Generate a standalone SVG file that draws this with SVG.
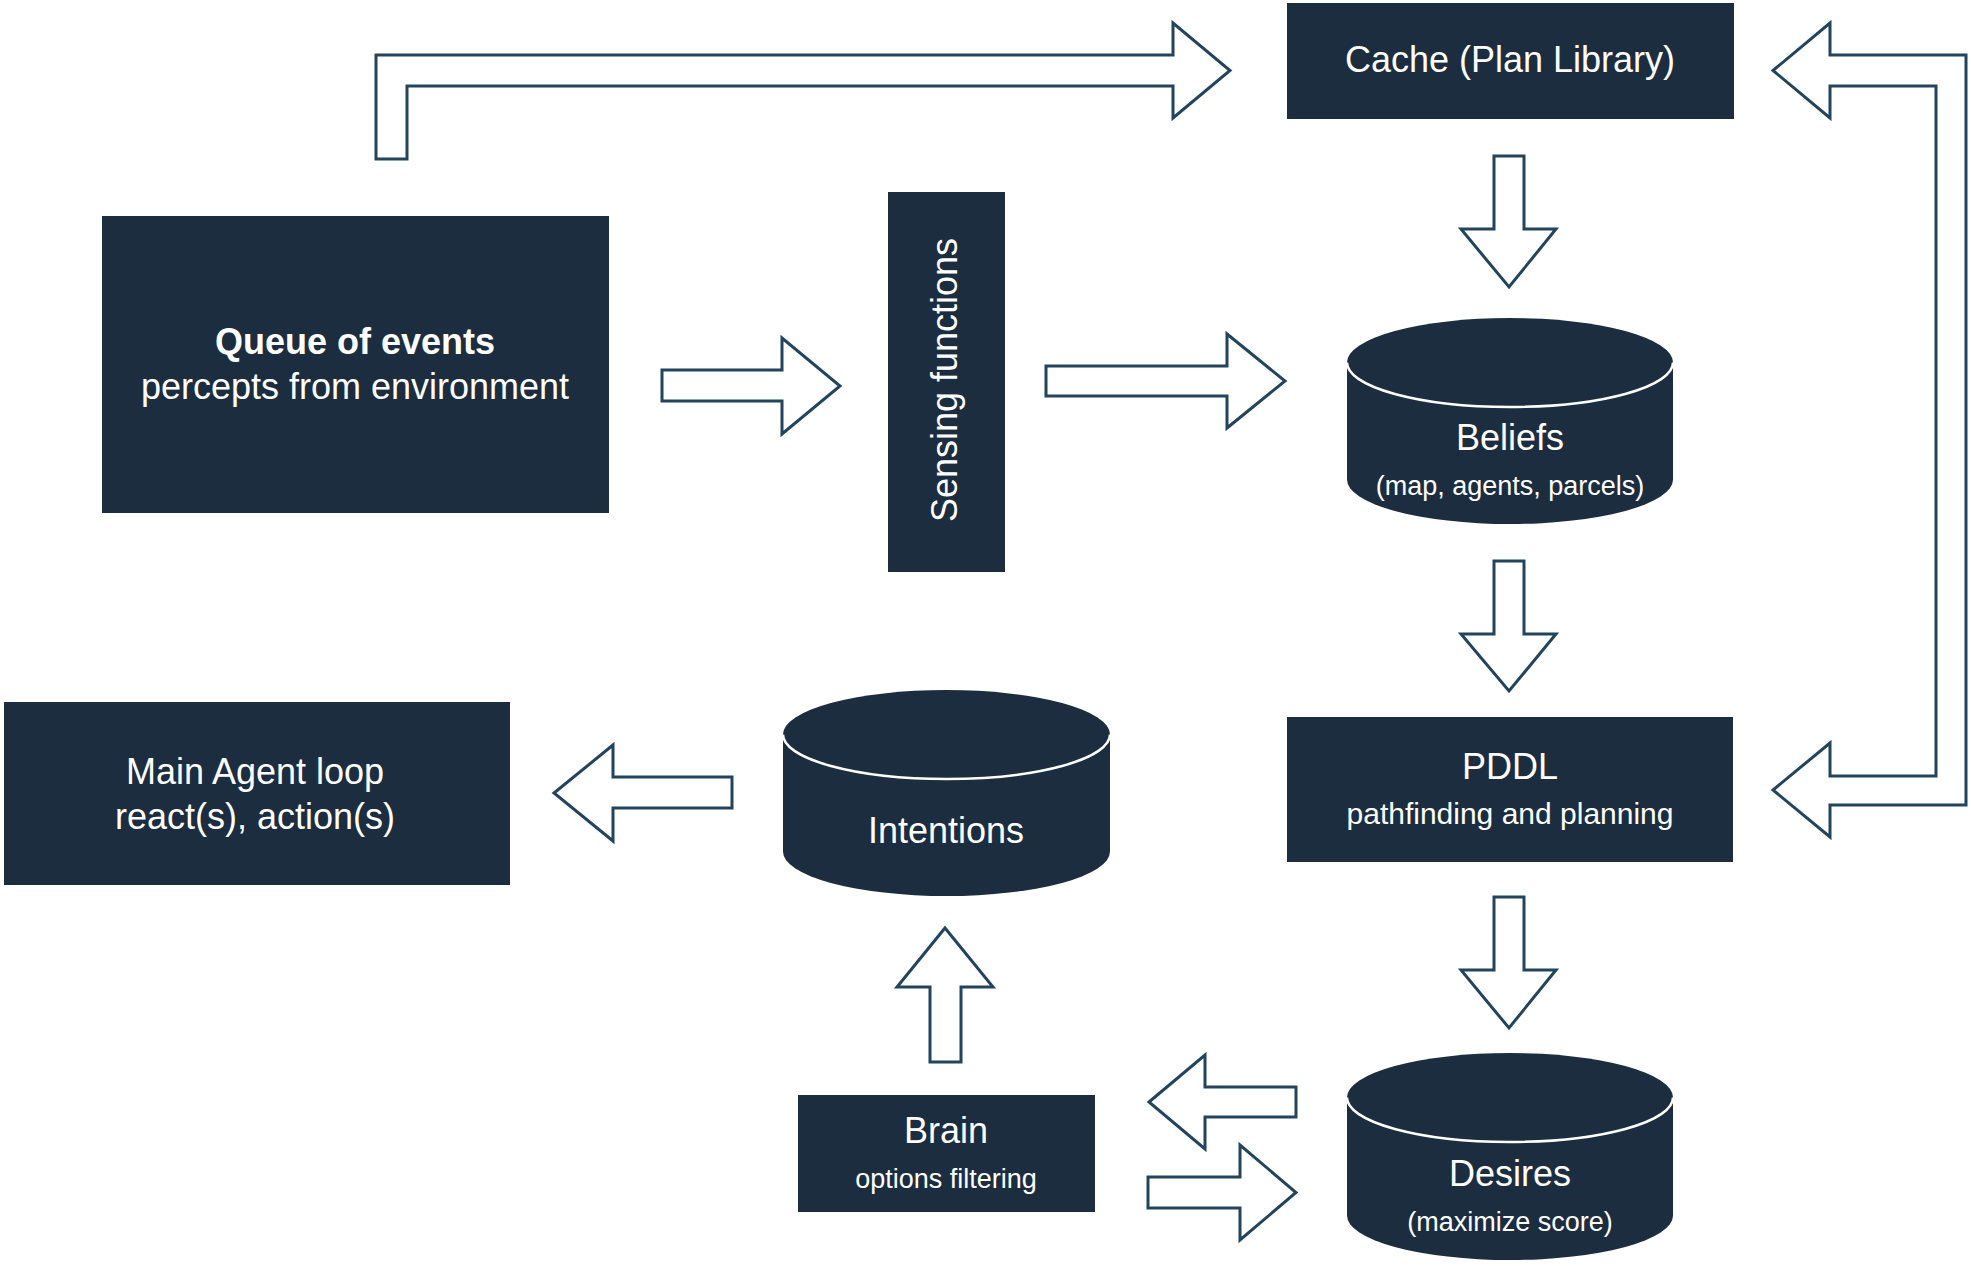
<svg xmlns="http://www.w3.org/2000/svg" width="1971" height="1266" viewBox="0 0 1971 1266">
<style>
.box{fill:#1b2d3f;stroke:none}
.cyl{fill:#1b2d3f;stroke:none}
.rim{fill:none;stroke:#ffffff;stroke-width:2.5}
.arrow{fill:#ffffff;stroke:#23445d;stroke-width:3;stroke-linejoin:miter}
text{font-family:"Liberation Sans",Arial,Helvetica,sans-serif;fill:#ffffff;text-anchor:middle}
.t{font-size:36px}
.b{font-size:36px;font-weight:bold}
.s{font-size:27px}
.m{font-size:30px}
</style>
<rect width="1971" height="1266" fill="#ffffff"/>
<g id="connectors">
<polygon class="arrow" points="376,159 376,55 1173,55 1173,23 1230,70.5 1173,118 1173,86 407,86 407,159"/>
<polygon class="arrow" points="1773,70.5 1830,23 1830,55 1966,55 1966,805 1830,805 1830,837 1773,790 1830,743 1830,776 1936,776 1936,86 1830,86 1830,118"/>
<polygon class="arrow" points="662,370 782,370 782,338 840,386 782,434 782,401 662,401"/>
<polygon class="arrow" points="1046,366 1227,366 1227,334 1285,381 1227,428 1227,396 1046,396"/>
<polygon class="arrow" points="1494,156 1524,156 1524,229 1556,229 1509,287 1461,229 1494,229"/>
<polygon class="arrow" points="1494,561 1524,561 1524,634 1556,634 1509,691 1461,634 1494,634"/>
<polygon class="arrow" points="1494,897 1524,897 1524,970 1556,970 1509,1028 1461,970 1494,970"/>
<polygon class="arrow" points="554,793 613,745 613,777 732,777 732,808 613,808 613,841"/>
<polygon class="arrow" points="945,928 993,987 961,987 961,1062 930,1062 930,987 897,987"/>
<polygon class="arrow" points="1149,1102 1205,1055 1205,1087 1296,1087 1296,1117 1205,1117 1205,1149"/>
<polygon class="arrow" points="1148,1177 1240,1177 1240,1145 1296,1192.5 1240,1240 1240,1208 1148,1208"/>
</g>
<g id="cache">
<rect class="box" x="1287" y="3" width="447" height="116"/>
<text class="t" x="1510" y="72">Cache (Plan Library)</text>
</g>
<g id="queue">
<rect class="box" x="102" y="216" width="507" height="297"/>
<text class="b" x="355" y="354">Queue of events</text>
<text class="t" x="355" y="399">percepts from environment</text>
</g>
<g id="sensing">
<rect class="box" x="888" y="192" width="117" height="380"/>
<text class="t" transform="translate(957,380) rotate(-90)">Sensing functions</text>
</g>
<g id="beliefs">
<path class="cyl" d="M1347,362.5 A163,44.5 0 0 1 1673,362.5 L1673,479.5 A163,44.5 0 0 1 1347,479.5 Z"/>
<path class="rim" d="M1347,362.5 A163,44.5 0 0 0 1673,362.5"/>
<text class="t" x="1510" y="450">Beliefs</text>
<text class="s" x="1510" y="495">(map, agents, parcels)</text>
</g>
<g id="pddl">
<rect class="box" x="1287" y="717" width="446" height="145"/>
<text class="t" x="1510" y="779">PDDL</text>
<text class="m" x="1510" y="824">pathfinding and planning</text>
</g>
<g id="main">
<rect class="box" x="4" y="702" width="506" height="183"/>
<text class="t" x="255" y="784">Main Agent loop</text>
<text class="t" x="255" y="829">react(s), action(s)</text>
</g>
<g id="intentions">
<path class="cyl" d="M783,734.5 A163.5,44.5 0 0 1 1110,734.5 L1110,851.5 A163.5,44.5 0 0 1 783,851.5 Z"/>
<path class="rim" d="M783,734.5 A163.5,44.5 0 0 0 1110,734.5"/>
<text class="t" x="946" y="843">Intentions</text>
</g>
<g id="brain">
<rect class="box" x="798" y="1095" width="297" height="117"/>
<text class="t" x="946" y="1143">Brain</text>
<text class="s" x="946" y="1188">options filtering</text>
</g>
<g id="desires">
<path class="cyl" d="M1347,1097.5 A163,44.5 0 0 1 1673,1097.5 L1673,1215.5 A163,44.5 0 0 1 1347,1215.5 Z"/>
<path class="rim" d="M1347,1097.5 A163,44.5 0 0 0 1673,1097.5"/>
<text class="t" x="1510" y="1186">Desires</text>
<text class="s" x="1510" y="1231">(maximize score)</text>
</g>
</svg>
